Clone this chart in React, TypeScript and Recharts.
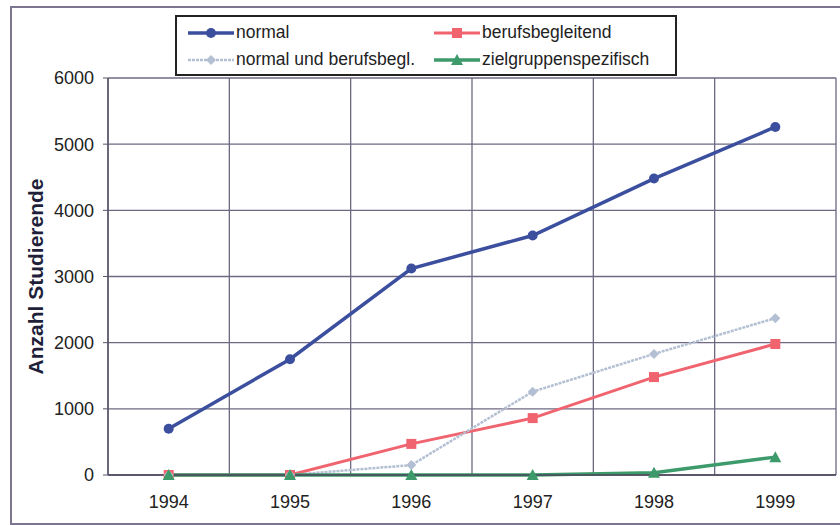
import React from "react";
import {
  LineChart,
  Line,
  XAxis,
  YAxis,
  CartesianGrid,
} from "recharts";

const years = [1994, 1995, 1996, 1997, 1998, 1999];
const normal = [700, 1750, 3120, 3620, 4480, 5260];
const berufsbegleitend = [0, 0, 470, 860, 1480, 1980];
const normalUndBerufsbegl = [0, 0, 150, 1260, 1830, 2370];
const zielgruppenspezifisch = [0, 0, 0, 0, 35, 270];
const yTicks = [0, 1000, 2000, 3000, 4000, 5000, 6000];

// boundaries between the year bands, for the vertical grid lines
const bandEdges = [...years.map((y) => y - 0.5), years[years.length - 1] + 0.5];

type Shape = "circle" | "square" | "diamond" | "triangle";

const series: {
  key: string;
  name: string;
  color: string;
  width: number;
  shape: Shape;
  dash?: string;
}[] = [
  { key: "normal", name: "normal", color: "#3b4f9e", width: 3.5, shape: "circle" },
  { key: "beruf", name: "berufsbegleitend", color: "#f0646f", width: 3, shape: "square" },
  {
    key: "both",
    name: "normal und berufsbegl.",
    color: "#b3bfd2",
    width: 2.5,
    shape: "diamond",
    dash: "3 1",
  },
  { key: "ziel", name: "zielgruppenspezifisch", color: "#3d9a6b", width: 3.5, shape: "triangle" },
];

const data = years.map((year, i) => ({
  year,
  normal: normal[i],
  beruf: berufsbegleitend[i],
  both: normalUndBerufsbegl[i],
  ziel: zielgruppenspezifisch[i],
}));

function Marker({ shape, cx, cy, color }: { shape: Shape; cx: number; cy: number; color: string }) {
  if (shape === "circle") return <circle cx={cx} cy={cy} r={5} fill={color} />;
  if (shape === "square")
    return <rect x={cx - 5} y={cy - 5} width={10} height={10} fill={color} />;
  if (shape === "diamond")
    return (
      <polygon
        points={`${cx},${cy - 5} ${cx + 5},${cy} ${cx},${cy + 5} ${cx - 5},${cy}`}
        fill={color}
      />
    );
  return (
    <polygon
      points={`${cx},${cy - 6} ${cx + 6},${cy + 5} ${cx - 6},${cy + 5}`}
      fill={color}
    />
  );
}

function LegendItem({ s }: { s: (typeof series)[number] }) {
  return (
    <div style={{ display: "flex", alignItems: "center", height: 27 }}>
      <svg width={48} height={14} style={{ marginRight: 1 }}>
        <line
          x1={1}
          y1={7}
          x2={47}
          y2={7}
          stroke={s.color}
          strokeWidth={s.width}
          strokeDasharray={s.dash}
        />
        <Marker shape={s.shape} cx={24} cy={7} color={s.color} />
      </svg>
      <span>{s.name}</span>
    </div>
  );
}

export default function App() {
  return (
    <div
      style={{
        position: "absolute",
        left: 0,
        top: 0,
        width: 840,
        height: 525,
        background: "white",
        overflow: "hidden",
        fontFamily: "'Liberation Sans', Arial, sans-serif",
      }}
    >
      <div
        style={{
          position: "absolute",
          left: 10,
          top: 6,
          width: 850,
          height: 515,
          border: "2px solid #7d7590",
        }}
      />

      <LineChart
        width={840}
        height={525}
        data={data}
        margin={{ top: 78, right: 4, bottom: 20, left: 0 }}
      >
        <XAxis
          xAxisId="grid"
          dataKey="year"
          type="number"
          orientation="top"
          domain={[bandEdges[0], bandEdges[bandEdges.length - 1]]}
          ticks={bandEdges}
          hide
        />
        <XAxis
          xAxisId="main"
          dataKey="year"
          type="number"
          domain={[bandEdges[0], bandEdges[bandEdges.length - 1]]}
          ticks={years}
          height={30}
          tickLine={false}
          tickSize={0}
          tickMargin={20}
          axisLine={{ stroke: "#4a4458", strokeWidth: 1.5 }}
          tick={{ fontSize: 18, fill: "#222" }}
        />
        <YAxis
          domain={[0, 6000]}
          ticks={yTicks}
          width={108}
          tickSize={5}
          tickMargin={9}
          axisLine={{ stroke: "#5a5468", strokeWidth: 1.5 }}
          tickLine={{ stroke: "#5a5468" }}
          tick={{ fontSize: 18, fill: "#222" }}
          label={{
            value: "Anzahl Studierende",
            angle: -90,
            position: "insideLeft",
            offset: 36,
            style: { textAnchor: "middle", fontSize: 21, fontWeight: 700, fill: "#1f1f3a" },
          }}
        />
        <CartesianGrid
          xAxisId="grid"
          stroke="#6f6882"
          strokeWidth={1.3}
        />
        {series.map((s) => (
          <Line
            key={s.key}
            xAxisId="main"
            dataKey={s.key}
            name={s.name}
            stroke={s.color}
            strokeWidth={s.width}
            strokeDasharray={s.dash}
            isAnimationActive={false}
            dot={(p: any) => (
              <Marker
                key={`${s.key}-${p.index}`}
                shape={s.shape}
                cx={p.cx}
                cy={p.cy}
                color={s.color}
              />
            )}
            activeDot={false}
          />
        ))}
      </LineChart>

      <div
        style={{
          position: "absolute",
          left: 175,
          top: 15,
          width: 488,
          height: 55,
          border: "2px solid #222",
          padding: "2px 0 0 10px",
          display: "grid",
          gridTemplateColumns: "246px 240px",
          gridAutoRows: 27,
          fontSize: 17.5,
          color: "#222",
        }}
      >
        {series.map((s) => (
          <LegendItem key={s.key} s={s} />
        ))}
      </div>
    </div>
  );
}
